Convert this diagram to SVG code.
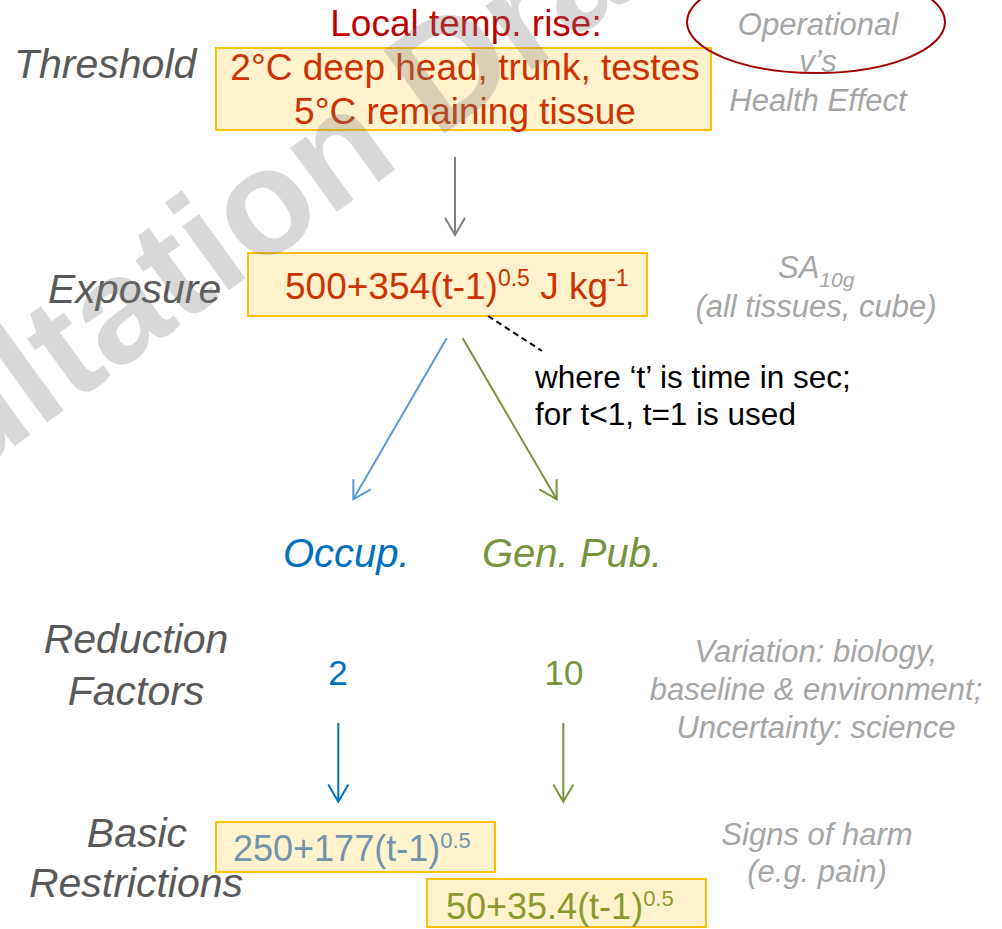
<svg xmlns="http://www.w3.org/2000/svg" width="1002" height="929" viewBox="0 0 1002 929">
<style>
text{font-family:"Liberation Sans",Arial,sans-serif}
.lbl{font-style:italic;font-size:41px;fill:#595959}
.note{font-style:italic;font-size:31px;fill:#A6A6A6}
.box{fill:#FFF2CC;stroke:#FFC000;stroke-width:2}
.red{fill:#CC3300;font-size:37px}
.ln{fill:none;stroke-width:2}
</style>
<defs>
<marker id="ahGray" markerUnits="userSpaceOnUse" orient="auto" refX="0" refY="0" markerWidth="40" markerHeight="40" viewBox="-20 -20 40 40" overflow="visible"><path d="M-17.3,-10 L0,0 L-17.3,10" fill="none" stroke="#7F7F7F" stroke-width="2"/></marker>
<marker id="ahLBlue" markerUnits="userSpaceOnUse" orient="auto" refX="0" refY="0" markerWidth="40" markerHeight="40" viewBox="-20 -20 40 40" overflow="visible"><path d="M-17.3,-10 L0,0 L-17.3,10" fill="none" stroke="#5B9BD5" stroke-width="2"/></marker>
<marker id="ahBlue" markerUnits="userSpaceOnUse" orient="auto" refX="0" refY="0" markerWidth="40" markerHeight="40" viewBox="-20 -20 40 40" overflow="visible"><path d="M-17.3,-10 L0,0 L-17.3,10" fill="none" stroke="#0070C0" stroke-width="2"/></marker>
<marker id="ahGreen" markerUnits="userSpaceOnUse" orient="auto" refX="0" refY="0" markerWidth="40" markerHeight="40" viewBox="-20 -20 40 40" overflow="visible"><path d="M-17.3,-10 L0,0 L-17.3,10" fill="none" stroke="#77933C" stroke-width="2"/></marker>
</defs>
<rect width="1002" height="929" fill="#FFFFFF"/>

<g id="labels">
<text class="lbl" x="14" y="78">Threshold</text>
<text class="lbl" x="48" y="303">Exposure</text>
<text class="lbl" x="136" y="653" text-anchor="middle">Reduction</text>
<text class="lbl" x="136" y="705" text-anchor="middle">Factors</text>
<text class="lbl" x="137" y="847" text-anchor="middle">Basic</text>
<text class="lbl" x="136" y="897" text-anchor="middle">Restrictions</text>
</g>

<g id="threshold">
<text x="466" y="36" text-anchor="middle" fill="#C00000" font-size="37">Local temp. rise:</text>
<rect class="box" x="216" y="48" width="495" height="82"/>
<text class="red" x="465" y="80" text-anchor="middle">2°C deep head, trunk, testes</text>
<text class="red" x="465" y="124" text-anchor="middle">5°C remaining tissue</text>
</g>

<g id="operational">
<ellipse cx="816" cy="22" rx="129" ry="51" fill="none" stroke="#A00000" stroke-width="2"/>
<text class="note" x="818" y="35" text-anchor="middle">Operational</text>
<text class="note" x="818" y="72" text-anchor="middle">v’s</text>
<text class="note" x="818" y="111" text-anchor="middle">Health Effect</text>
</g>

<g id="exposure">
<rect class="box" x="248" y="253" width="399" height="63"/>
<text class="red" x="285" y="299">500+354(t-1)<tspan font-size="23" dy="-13">0.5</tspan><tspan dy="13"> J kg</tspan><tspan font-size="23" dy="-13">-1</tspan></text>
</g>

<g id="sa10g">
<text class="note" x="778" y="278">SA<tspan font-size="21" dy="9">10g</tspan></text>
<text class="note" x="816" y="317" text-anchor="middle">(all tissues, cube)</text>
</g>

<g id="tnote">
<text x="535" y="388" font-size="31.5" fill="#000000">where ‘t’ is time in sec;</text>
<text x="535" y="425" font-size="31.5" fill="#000000">for t&lt;1, t=1 is used</text>
</g>

<g id="occup">
<text x="283" y="567" font-style="italic" font-size="40" fill="#0070C0">Occup.</text>
</g>
<g id="genpub">
<text x="482" y="567" font-style="italic" font-size="40" fill="#77933C">Gen. Pub.</text>
</g>

<g id="factors">
<text x="338" y="685" text-anchor="middle" font-size="35" fill="#0070C0">2</text>
<text x="564" y="685" text-anchor="middle" font-size="35" fill="#77933C">10</text>
</g>

<g id="variation">
<text class="note" x="816" y="662" text-anchor="middle">Variation: biology,</text>
<text class="note" x="816" y="700" text-anchor="middle">baseline &amp; environment;</text>
<text class="note" x="816" y="738" text-anchor="middle">Uncertainty: science</text>
</g>

<g id="harm">
<text class="note" x="817" y="845" text-anchor="middle">Signs of harm</text>
<text class="note" x="817" y="882" text-anchor="middle">(e.g. pain)</text>
</g>

<g id="br-occup">
<rect class="box" x="216" y="822" width="279" height="50"/>
<text x="233" y="861" font-size="36" fill="#7094AE">250+177(t-1)<tspan font-size="22" dy="-13">0.5</tspan></text>
</g>

<g id="br-genpub">
<rect class="box" x="427" y="879" width="279" height="48"/>
<text x="446" y="919" font-size="36" fill="#8A9A2C">50+35.4(t-1)<tspan font-size="22" dy="-13">0.5</tspan></text>
</g>

<g id="connectors">
<line class="ln" x1="455" y1="157" x2="455" y2="235" stroke="#7F7F7F" marker-end="url(#ahGray)"/>
<line class="ln" x1="488" y1="316" x2="542" y2="351" stroke="#000000" stroke-width="1.5" stroke-dasharray="6 4"/>
<line class="ln" x1="446.7" y1="338.3" x2="353.3" y2="499.3" stroke="#5B9BD5" marker-end="url(#ahLBlue)"/>
<line class="ln" x1="462.7" y1="338.3" x2="556.7" y2="499.3" stroke="#77933C" marker-end="url(#ahGreen)"/>
<line class="ln" x1="338.3" y1="723" x2="338.3" y2="801.7" stroke="#0070C0" marker-end="url(#ahBlue)"/>
<line class="ln" x1="563.3" y1="723" x2="563.3" y2="801.7" stroke="#77933C" marker-end="url(#ahGreen)"/>
</g>

<text x="0" y="0" transform="translate(-339,703) rotate(-36)" font-size="150" font-weight="bold" fill="#7F7F7F" fill-opacity="0.3">Consultation Draft</text>
</svg>
